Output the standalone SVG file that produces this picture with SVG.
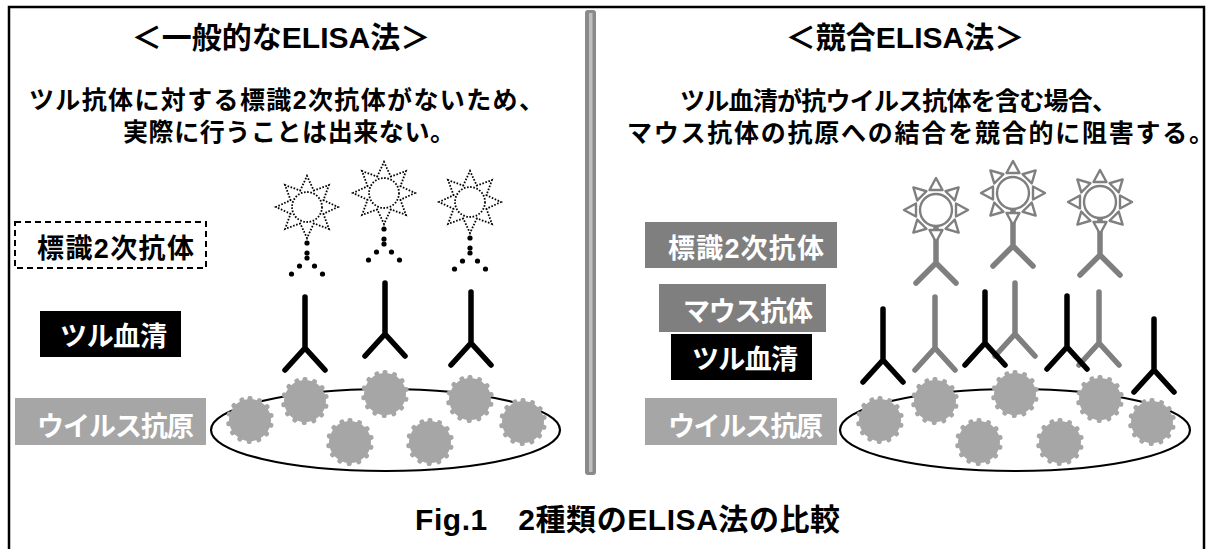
<svg xmlns="http://www.w3.org/2000/svg" xmlns:xlink="http://www.w3.org/1999/xlink" width="1213" height="549" viewBox="0 0 1213 549">
  <style>
    text { font-family: "Liberation Sans", "Noto Sans CJK JP", sans-serif; font-weight: bold; }
    .title { font-size: 30px; fill: #000; }
    .sub { font-size: 25px; fill: #000; }
    .lbl { font-size: 27px; }
    .ab-black { fill: none; stroke: #000; stroke-width: 5.5; stroke-linecap: round; stroke-linejoin: round; }
    .ab-gray { fill: none; stroke: #7f7f7f; stroke-width: 5.5; stroke-linecap: round; stroke-linejoin: round; }
    .plate { fill: none; stroke: #000; stroke-width: 2.2; }
    .dot { fill: #000; }
    .tooth { fill: #a6a6a6; }
  </style>
  <defs>
    <!-- one short rounded tooth of the antigen particle -->
    <rect id="tooth" class="tooth" x="-2.5" y="-24" width="5" height="6" rx="2"/>
    <!-- virus antigen: gear-like particle -->
    <g id="gear" fill="#a6a6a6">
      <circle r="21"/>
      <use xlink:href="#tooth"/>
      <use xlink:href="#tooth" transform="rotate(26)"/>
      <use xlink:href="#tooth" transform="rotate(52)"/>
      <use xlink:href="#tooth" transform="rotate(78)"/>
      <use xlink:href="#tooth" transform="rotate(104)"/>
      <use xlink:href="#tooth" transform="rotate(130)"/>
      <use xlink:href="#tooth" transform="rotate(156)"/>
      <use xlink:href="#tooth" transform="rotate(182)"/>
      <use xlink:href="#tooth" transform="rotate(208)"/>
      <use xlink:href="#tooth" transform="rotate(234)"/>
      <use xlink:href="#tooth" transform="rotate(260)"/>
      <use xlink:href="#tooth" transform="rotate(286)"/>
      <use xlink:href="#tooth" transform="rotate(312)"/>
      <use xlink:href="#tooth" transform="rotate(338)"/>
    </g>
    <!-- Y-shaped antibody, origin at the top of the stem -->
    <path id="ab" d="M0,0 V51 M-20,73 L0,51 L20,73"/>
    <!-- label enzyme (sun) : solid grey -->
    <g id="sun" fill="#fff" stroke="#7f7f7f" stroke-width="2.4" stroke-linejoin="round">
      <circle r="16"/>
      <polygon points="0,-32 -6.5,-20 6.5,-20"/>
      <polygon points="0,-32 -6.5,-20 6.5,-20" transform="rotate(45)"/>
      <polygon points="0,-32 -6.5,-20 6.5,-20" transform="rotate(90)"/>
      <polygon points="0,-32 -6.5,-20 6.5,-20" transform="rotate(135)"/>
      <polygon points="0,-32 -6.5,-20 6.5,-20" transform="rotate(180)"/>
      <polygon points="0,-32 -6.5,-20 6.5,-20" transform="rotate(225)"/>
      <polygon points="0,-32 -6.5,-20 6.5,-20" transform="rotate(270)"/>
      <polygon points="0,-32 -6.5,-20 6.5,-20" transform="rotate(315)"/>
    </g>
    <!-- label enzyme (sun) : dotted outline -->
    <g id="dsun" fill="none" stroke="#000" stroke-width="1.8" stroke-dasharray="1.6 1.6">
      <circle r="15"/>
      <polyline points="-7,-16 0,-31 7,-16"/>
      <polyline points="-7,-16 0,-31 7,-16" transform="rotate(45)"/>
      <polyline points="-7,-16 0,-31 7,-16" transform="rotate(90)"/>
      <polyline points="-7,-16 0,-31 7,-16" transform="rotate(135)"/>
      <polyline points="-7,-16 0,-31 7,-16" transform="rotate(180)"/>
      <polyline points="-7,-16 0,-31 7,-16" transform="rotate(225)"/>
      <polyline points="-7,-16 0,-31 7,-16" transform="rotate(270)"/>
      <polyline points="-7,-16 0,-31 7,-16" transform="rotate(315)"/>
    </g>
    <!-- dotted antibody placeholder beneath each dotted sun -->
    <g id="dots" class="dot">
      <circle cx="0" cy="36" r="2.6"/>
      <circle cx="0" cy="46" r="2.6"/>
      <circle cx="0" cy="51" r="2.6"/>
      <circle cx="-7.5" cy="59" r="2.6"/>
      <circle cx="7.5" cy="59" r="2.6"/>
      <circle cx="-15.5" cy="67" r="2.6"/>
      <circle cx="15.5" cy="67" r="2.6"/>
    </g>
    <!-- secondary antibody stem below a sun -->
    <path id="ab2" d="M0,16 V53 M-20,73 L0,53 L20,73"/>
  </defs>

  <!-- outer frame -->
  <rect x="9" y="7" width="1195" height="560" fill="none" stroke="#000" stroke-width="2.5"/>

  <!-- centre divider -->
  <g id="divider">
    <rect x="585" y="10" width="11" height="465" rx="3" fill="#8a8a8a"/>
    <rect x="589" y="13" width="3.5" height="459" fill="#bfbfbf"/>
  </g>

  <!-- headings -->
  <g id="heading-left">
    <text class="title" x="281" y="48" text-anchor="middle">＜一般的なELISA法＞</text>
    <text class="sub" x="29" y="109" font-size="26" textLength="515" lengthAdjust="spacing">ツル抗体に対する標識2次抗体がないため、</text>
    <text class="sub" x="123" y="141" textLength="332" lengthAdjust="spacing">実際に行うことは出来ない。</text>
  </g>
  <g id="heading-right">
    <text class="title" x="905" y="48" text-anchor="middle">＜競合ELISA法＞</text>
    <text class="sub" x="680" y="110" textLength="437" lengthAdjust="spacing">ツル血清が抗ウイルス抗体を含む場合、</text>
    <text class="sub" x="627" y="142" textLength="587" lengthAdjust="spacing">マウス抗体の抗原への結合を競合的に阻害する。</text>
  </g>

  <!-- legend labels, left -->
  <g id="label-l-secondary">
    <rect x="15" y="222" width="191" height="46" fill="none" stroke="#000" stroke-width="2" stroke-dasharray="6 4"/>
    <text class="lbl" x="37" y="258" textLength="157" lengthAdjust="spacing" fill="#000">標識2次抗体</text>
  </g>
  <g id="label-l-serum">
    <rect x="40" y="311" width="141" height="46" fill="#000"/>
    <text class="lbl" x="60" y="346" textLength="107" lengthAdjust="spacing" fill="#fff">ツル血清</text>
  </g>
  <g id="label-l-antigen">
    <rect x="15" y="398" width="191" height="47" fill="#a6a6a6"/>
    <text class="lbl" x="37" y="436" textLength="157" lengthAdjust="spacing" fill="#fff">ウイルス抗原</text>
  </g>

  <!-- legend labels, right -->
  <g id="label-r-secondary">
    <rect x="645" y="222" width="192" height="46" fill="#7f7f7f"/>
    <text class="lbl" x="668" y="258" textLength="156" lengthAdjust="spacing" fill="#fff">標識2次抗体</text>
  </g>
  <g id="label-r-mouse">
    <rect x="659" y="284" width="167" height="48" fill="#7f7f7f"/>
    <text class="lbl" x="683" y="321" textLength="130" lengthAdjust="spacing" fill="#fff">マウス抗体</text>
  </g>
  <g id="label-r-serum">
    <rect x="671" y="334" width="141" height="46" fill="#000"/>
    <text class="lbl" x="692" y="369" textLength="106" lengthAdjust="spacing" fill="#fff">ツル血清</text>
  </g>
  <g id="label-r-antigen">
    <rect x="645" y="398" width="192" height="47" fill="#a6a6a6"/>
    <text class="lbl" x="668" y="436" textLength="155" lengthAdjust="spacing" fill="#fff">ウイルス抗原</text>
  </g>

  <!-- left assay: plate with antigen -->
  <g id="plate-left">
    <ellipse class="plate" cx="385.5" cy="430" rx="174.5" ry="41"/>
    <use xlink:href="#gear" x="250" y="420"/>
    <use xlink:href="#gear" x="305" y="401"/>
    <use xlink:href="#gear" x="385" y="394"/>
    <use xlink:href="#gear" x="470" y="399"/>
    <use xlink:href="#gear" x="523" y="422"/>
    <use xlink:href="#gear" x="350" y="442"/>
    <use xlink:href="#gear" x="430" y="442"/>
  </g>
  <g id="serum-left" class="ab-black">
    <use xlink:href="#ab" x="305" y="297"/>
    <use xlink:href="#ab" x="385" y="283"/>
    <use xlink:href="#ab" x="471" y="292"/>
  </g>
  <g id="secondary-left">
    <use xlink:href="#dsun" x="307" y="207"/>
    <use xlink:href="#dots" x="307" y="207"/>
    <use xlink:href="#dsun" x="384" y="193"/>
    <use xlink:href="#dots" x="384" y="193"/>
    <use xlink:href="#dsun" x="470" y="202"/>
    <use xlink:href="#dots" x="470" y="202"/>
  </g>

  <!-- right assay: plate with antigen -->
  <g id="plate-right">
    <ellipse class="plate" cx="1015" cy="430" rx="175" ry="41"/>
    <use xlink:href="#gear" x="880" y="420"/>
    <use xlink:href="#gear" x="935" y="401"/>
    <use xlink:href="#gear" x="1015" y="394"/>
    <use xlink:href="#gear" x="1100" y="399"/>
    <use xlink:href="#gear" x="1152" y="422"/>
    <use xlink:href="#gear" x="979" y="442"/>
    <use xlink:href="#gear" x="1060" y="442"/>
  </g>
  <g id="connectors">
    <g id="mouse-ab" class="ab-gray">
      <use xlink:href="#ab" x="935" y="297"/>
      <use xlink:href="#ab" x="1015" y="283"/>
      <use xlink:href="#ab" x="1099" y="292"/>
    </g>
    <g id="serum-right" class="ab-black">
      <use xlink:href="#ab" x="883" y="309"/>
      <use xlink:href="#ab" x="985" y="292"/>
      <use xlink:href="#ab" x="1067" y="296"/>
      <use xlink:href="#ab" x="1154" y="319"/>
    </g>
    <g id="secondary-right-stems" class="ab-gray">
      <use xlink:href="#ab2" x="936" y="210"/>
      <use xlink:href="#ab2" x="1013" y="193"/>
      <use xlink:href="#ab2" x="1100" y="202"/>
    </g>
  </g>
  <g id="secondary-right">
    <use xlink:href="#sun" x="936" y="210"/>
    <use xlink:href="#sun" x="1013" y="193"/>
    <use xlink:href="#sun" x="1100" y="202"/>
  </g>

  <!-- caption -->
  <g id="caption">
    <text x="415" y="530" font-size="30" textLength="425" lengthAdjust="spacing">Fig.1　2種類のELISA法の比較</text>
  </g>
</svg>
